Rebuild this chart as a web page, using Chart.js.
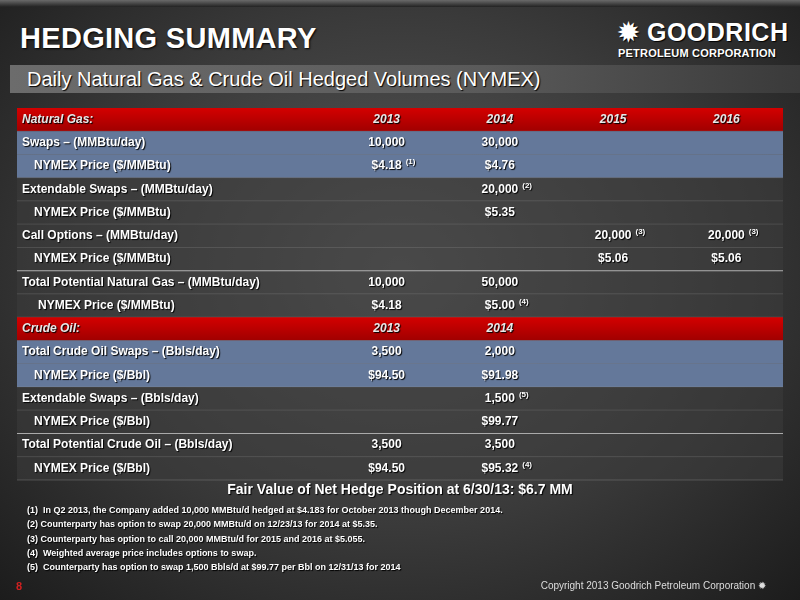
<!DOCTYPE html>
<html><head><meta charset="utf-8">
<script src="https://cdn.jsdelivr.net/npm/chart.js@4"></script>
<style>
body{margin:0;width:800px;height:600px;overflow:hidden;font-family:"Liberation Sans",Arial,sans-serif;
background:radial-gradient(ellipse at 50% 45%,#5a5a5a 0%,#3a3a3a 55%,#1c1c1c 100%);position:relative}
#top{position:absolute;left:0;top:0;width:800px;height:7px;background:linear-gradient(#6a6a6a,#222)}
#title{position:absolute;left:20px;top:22px;color:#fff;font-size:29px;font-weight:bold;letter-spacing:0.3px;text-shadow:1px 1px 2px #000}
#logo{position:absolute;left:618px;top:18px;color:#fff;font-weight:bold;text-shadow:1px 1px 1px #000}
#logo .a{font-size:25px;letter-spacing:0.5px}#logo .b{font-size:11px;letter-spacing:0.2px}
#sub{position:absolute;left:10px;top:65px;width:790px;height:28px;background:linear-gradient(90deg,#6c6c6c,#5a5a5a 60%,#3a3a3a);color:#fff;font-size:20px;line-height:28px;padding-left:17px;box-sizing:border-box;text-shadow:1px 1px 1px #000}
canvas{position:absolute;left:0;top:0}
#fair{position:absolute;left:0;width:800px;top:481px;text-align:center;color:#fff;font-weight:bold;font-size:14px;text-shadow:1px 1px 1px #000}
#notes{position:absolute;left:27px;top:503px;color:#fff;font-weight:bold;font-size:9px;line-height:14.3px;text-shadow:1px 1px 1px #000}
#pg{position:absolute;left:16px;top:580px;color:#d02020;font-weight:bold;font-size:11px}
#copy{position:absolute;right:34px;top:580px;color:#ddd;font-size:10px}
</style></head><body>
<div id="top"></div>
<div id="title">HEDGING SUMMARY</div>
<div id="logo"><div class="a">&#10041; GOODRICH</div><div class="b">PETROLEUM CORPORATION</div></div>
<div id="sub">Daily Natural Gas &amp; Crude Oil Hedged Volumes (NYMEX)</div>
<canvas id="c" width="800" height="600"></canvas>
<div id="fair">Fair Value of Net Hedge Position at 6/30/13: $6.7 MM</div>
<div id="notes">
(1)&nbsp; In Q2 2013, the Company added 10,000 MMBtu/d hedged at $4.183 for October 2013 though December 2014.<br>
(2) Counterparty has option to swap 20,000 MMBtu/d on 12/23/13 for 2014 at $5.35.<br>
(3) Counterparty has option to call 20,000 MMBtu/d for 2015 and 2016 at $5.055.<br>
(4)&nbsp; Weighted average price includes options to swap.<br>
(5)&nbsp; Counterparty has option to swap 1,500 Bbls/d at $99.77 per Bbl on 12/31/13 for 2014</div>
<div id="pg">8</div>
<div id="copy">Copyright 2013 Goodrich Petroleum Corporation &#10041;</div>
<script>
const columns = ['2013', '2014', '2015', '2016'];
const rowLabels = ['Natural Gas:', 'Swaps – (MMBtu/day)', '   NYMEX Price ($/MMBtu)', 'Extendable Swaps – (MMBtu/day)',
  '   NYMEX Price ($/MMBtu)', 'Call Options – (MMBtu/day)', '   NYMEX Price ($/MMBtu)',
  'Total Potential Natural Gas – (MMBtu/day)', '    NYMEX Price ($/MMBtu)', 'Crude Oil:',
  'Total Crude Oil Swaps – (Bbls/day)', '   NYMEX Price ($/Bbl)', 'Extendable Swaps – (Bbls/day)',
  '   NYMEX Price ($/Bbl)', 'Total Potential Crude Oil – (Bbls/day)', '   NYMEX Price ($/Bbl)'];
const rowKinds = ['head', 'blue', 'blue', 'dark', 'dark', 'dark', 'dark', 'dark', 'dark', 'head', 'blue', 'blue', 'dark', 'dark', 'dark', 'dark'];
const ruleAbove = [7, 14];
const col2013 = ['2013', '10,000', '$4.18^(1)', '', '', '', '', '10,000', '$4.18', '2013', '3,500', '$94.50', '', '', '3,500', '$94.50'];
const col2014 = ['2014', '30,000', '$4.76', '20,000^(2)', '$5.35', '', '', '50,000', '$5.00^(4)', '2014', '2,000', '$91.98', '1,500^(5)', '$99.77', '3,500', '$95.32^(4)'];
const col2015 = ['2015', '', '', '', '', '20,000^(3)', '$5.06', '', '', '', '', '', '', '', '', ''];
const col2016 = ['2016', '', '', '', '', '20,000^(3)', '$5.06', '', '', '', '', '', '', '', '', ''];
const cells = [col2013, col2014, col2015, col2016];

const tablePlugin = {
  id: 'table',
  beforeDatasetsDraw(chart) {
    const { ctx, scales: { x, y } } = chart;
    const h = y.getPixelForValue(1) - y.getPixelForValue(0);
    const L = 17, R = 783;
    ctx.save();
    rowLabels.forEach((lab, i) => {
      const cy = y.getPixelForValue(i), top = cy - h / 2;
      if (rowKinds[i] === 'head') {
        const g = ctx.createLinearGradient(0, top, 0, top + h);
        g.addColorStop(0, '#d40000'); g.addColorStop(1, '#a00000');
        ctx.fillStyle = g; ctx.fillRect(L, top, R - L, h);
      } else if (rowKinds[i] === 'blue') {
        ctx.fillStyle = '#64789a'; ctx.fillRect(L, top, R - L, h);
      } else {
        ctx.fillStyle = 'rgba(60,60,60,0.55)'; ctx.fillRect(L, top, R - L, h);
      }
      ctx.strokeStyle = 'rgba(150,150,150,0.5)'; ctx.lineWidth = 0.7;
      ctx.beginPath(); ctx.moveTo(L, top + h); ctx.lineTo(R, top + h); ctx.stroke();
      if (ruleAbove.includes(i)) {
        ctx.strokeStyle = '#aaa'; ctx.lineWidth = 1.2;
        ctx.beginPath(); ctx.moveTo(L, top); ctx.lineTo(R, top); ctx.stroke();
      }
      const head = rowKinds[i] === 'head';
      const italic = head ? 'italic ' : '';
      ctx.shadowColor = '#000'; ctx.shadowOffsetX = 1; ctx.shadowOffsetY = 1; ctx.shadowBlur = 1;
      ctx.fillStyle = head ? '#e8e8e8' : '#fff'; ctx.textBaseline = 'middle';
      ctx.font = italic + 'bold 12px "Liberation Sans", Arial';
      ctx.textAlign = 'left';
      const indent = lab.match(/^ */)[0].length * 4;
      ctx.fillText(lab.trim(), 22 + indent, cy);
      cells.forEach((col, c) => {
        const t = col[i]; if (!t) return;
        const [main, sup] = t.split('^');
        const cx = x.getPixelForValue(c);
        ctx.font = italic + 'bold 12px "Liberation Sans", Arial';
        ctx.textAlign = 'center'; ctx.fillText(main, cx, cy);
        if (sup) {
          const w = ctx.measureText(main).width;
          ctx.font = 'bold 8px "Liberation Sans", Arial'; ctx.textAlign = 'left';
          ctx.fillText(sup, cx + w / 2 + 4, cy - 4);
        }
      });
      ctx.shadowColor = 'transparent';
    });
    ctx.restore();
  }
};

new Chart(document.getElementById('c'), {
  type: 'scatter',
  data: { datasets: [{ data: [], pointRadius: 0 }] },
  options: {
    responsive: false, animation: false,
    layout: { padding: { left: 330, right: 17, top: 108, bottom: 120 } },
    plugins: { legend: { display: false }, tooltip: { enabled: false } },
    scales: {
      x: { type: 'category', labels: columns, offset: true, display: false },
      y: { type: 'category', labels: rowLabels, offset: true, display: false }
    }
  },
  plugins: [tablePlugin]
});
</script>
</body></html>
